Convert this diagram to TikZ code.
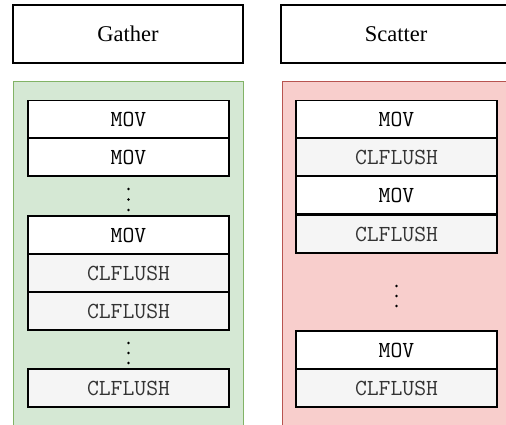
\documentclass[tikz,border=0pt]{standalone}
\usepackage{fontspec}
\setmainfont{Liberation Serif}
\definecolor{gatherfill}{HTML}{D5E8D4}
\definecolor{gatherline}{HTML}{82B366}
\definecolor{scatterfill}{HTML}{F8CECC}
\definecolor{scatterline}{HTML}{B85450}
\definecolor{flushfill}{HTML}{F5F5F5}
\definecolor{flushtext}{HTML}{333333}
\tikzset{
  header/.style={draw=black, line width=1.3pt, fill=white, inner sep=0pt, outer sep=0pt,
    minimum width=230pt, minimum height=58pt, font=\fontsize{22.5}{26}\selectfont},
  instr/.style={draw=black, line width=1.3pt, inner sep=0pt, outer sep=0pt,
    minimum width=201pt, minimum height=38pt, font=\ttfamily\fontsize{23}{27}\selectfont},
  movbox/.style={instr, fill=white, text=black},
  flushbox/.style={instr, fill=flushfill, text=flushtext},
  gathergroup/.style={draw=gatherline, fill=gatherfill, line width=1pt},
  scattergroup/.style={draw=scatterline, fill=scatterfill, line width=1pt},
  ellip/.style={fill=black},
}
\begin{document}
\begin{tikzpicture}[x=1pt, y=-1pt]
\clip (0,0) rectangle (506,425);
\fill[white] (0,0) rectangle (506,425);

% column groups
\draw[gathergroup] (13,82) rectangle (243,440);
\draw[scattergroup] (282,82) rectangle (512,440);

% headers
\node[header] (gather) at (128,34) {Gather};
\node[header] (scatter) at (396,34) {Scatter};

% gather sequence
\node[movbox] (g1) at (128.5,119.5) {MOV};
\node[movbox] (g2) at (128.5,157) {MOV};
\node[movbox] (g3) at (128.5,235) {MOV};
\node[flushbox] (g4) at (128.5,273) {CLFLUSH};
\node[flushbox] (g5) at (128.5,311) {CLFLUSH};
\node[flushbox] (g6) at (128.5,388) {CLFLUSH};
\foreach \y in {189,199.5,210} \fill[ellip] (128.5,\y) circle (1.4);
\foreach \y in {343,353,363} \fill[ellip] (128.5,\y) circle (1.4);

% scatter sequence
\node[movbox] (s1) at (396.5,119.5) {MOV};
\node[flushbox] (s2) at (396.5,157) {CLFLUSH};
\node[movbox] (s3) at (396.5,195) {MOV};
\node[flushbox] (s4) at (396.5,234) {CLFLUSH};
\node[movbox] (s5) at (396.5,350) {MOV};
\node[flushbox] (s6) at (396.5,388) {CLFLUSH};
\foreach \y in {286,296,306} \fill[ellip] (396.5,\y) circle (1.4);
\end{tikzpicture}
\end{document}
